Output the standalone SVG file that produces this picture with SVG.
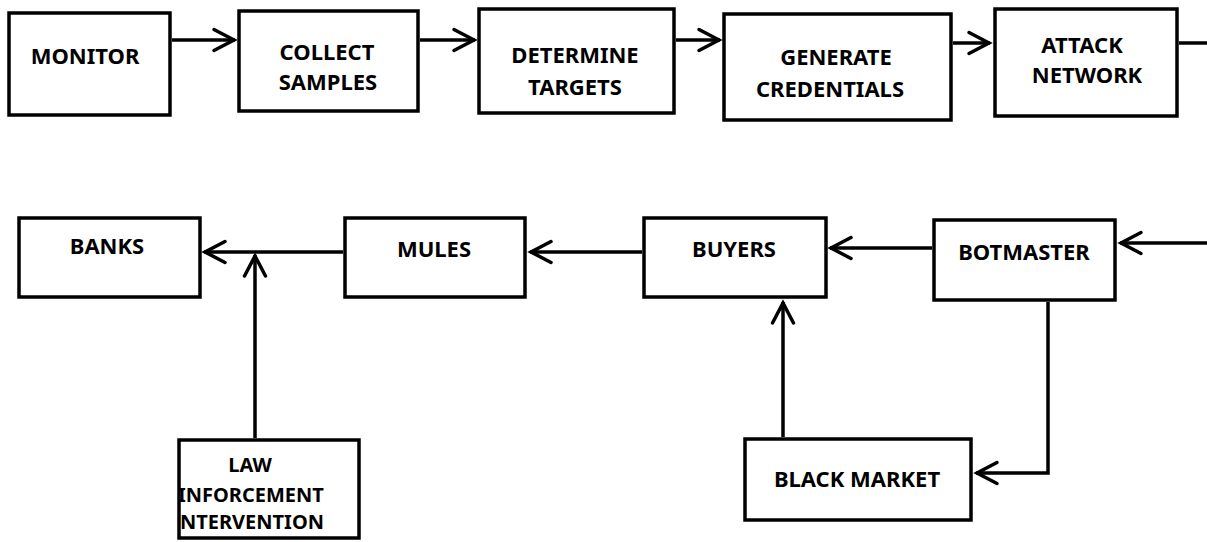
<svg xmlns="http://www.w3.org/2000/svg" width="1207" height="542" viewBox="0 0 1207 542">
<style>
.box{fill:#fff;stroke:#000;stroke-width:3.5}
.lbl{font-family:"Noto Sans","Open Sans",sans-serif;font-weight:bold;font-size:22px;fill:#000;text-anchor:middle}
.sm{font-size:20px}
.lft{text-anchor:start}
.con{fill:none;stroke:#000;stroke-width:3.5;marker-end:url(#ah)}
.ln{fill:none;stroke:#000;stroke-width:3.5}
</style>
<defs>
<marker id="ah" markerUnits="userSpaceOnUse" viewBox="-26 -14 30 28" markerWidth="30" markerHeight="28" refX="1" refY="0" orient="auto">
<path d="M-20,-10.5 L0,0 L-20,10.5" fill="none" stroke="#000" stroke-width="3.5" stroke-linecap="round"/>
</marker>
</defs>
<rect width="1207" height="542" fill="#fff"/>
<g id="connectors">
<line class="con" x1="172" y1="40" x2="235" y2="40"/>
<line class="con" x1="420" y1="40" x2="475" y2="40"/>
<line class="con" x1="676" y1="40" x2="720" y2="40"/>
<line class="con" x1="953" y1="43" x2="990" y2="43"/>
<line class="ln" x1="1179" y1="43" x2="1207" y2="43"/>
<line class="con" x1="1207" y1="243" x2="1120" y2="243"/>
<line class="con" x1="932" y1="248" x2="830" y2="248"/>
<line class="con" x1="642" y1="252" x2="530" y2="252"/>
<line class="con" x1="343" y1="252" x2="204" y2="252"/>
<line class="con" x1="255" y1="438" x2="255" y2="255"/>
<line class="con" x1="783" y1="437" x2="783" y2="302"/>
<polyline class="con" points="1048,302 1048,473 976,473"/>
</g>
<g id="monitor"><rect class="box" x="9" y="13" width="161" height="102"/><text class="lbl" x="85" y="64">MONITOR</text></g>
<g id="collect"><rect class="box" x="239" y="11" width="179" height="100"/><text class="lbl" x="327" y="60">COLLECT</text><text class="lbl" x="328" y="90">SAMPLES</text></g>
<g id="determine"><rect class="box" x="479" y="9" width="195" height="104"/><text class="lbl" x="575" y="63">DETERMINE</text><text class="lbl" x="575" y="95">TARGETS</text></g>
<g id="generate"><rect class="box" x="724" y="14" width="227" height="106"/><text class="lbl" x="836" y="65">GENERATE</text><text class="lbl" x="830" y="97">CREDENTIALS</text></g>
<g id="attack"><rect class="box" x="995" y="9" width="182" height="107"/><text class="lbl" x="1082" y="53">ATTACK</text><text class="lbl" x="1087" y="83">NETWORK</text></g>
<g id="banks"><rect class="box" x="19" y="218" width="181" height="79"/><text class="lbl" x="107" y="254">BANKS</text></g>
<g id="mules"><rect class="box" x="345" y="218" width="180" height="79"/><text class="lbl" x="434" y="257">MULES</text></g>
<g id="buyers"><rect class="box" x="644" y="218" width="182" height="79"/><text class="lbl" x="734" y="257">BUYERS</text></g>
<g id="botmaster"><rect class="box" x="934" y="220" width="181" height="80"/><text class="lbl" x="1024" y="260">BOTMASTER</text></g>
<g id="law"><rect class="box" x="179" y="440" width="180" height="98"/><text class="lbl sm" x="250" y="472">LAW</text><text class="lbl sm lft" x="178" y="502">INFORCEMENT</text><text class="lbl sm lft" x="180" y="529">NTERVENTION</text></g>
<g id="blackmarket"><rect class="box" x="745" y="439" width="226" height="81"/><text class="lbl" x="857" y="487">BLACK MARKET</text></g>
</svg>
